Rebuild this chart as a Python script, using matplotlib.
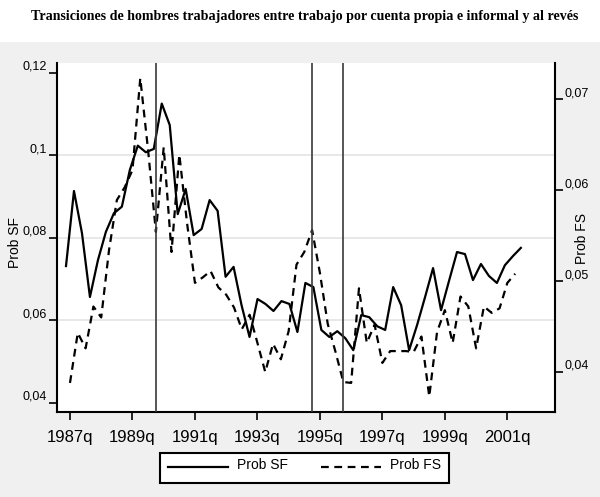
import numpy as np
import matplotlib
matplotlib.use("Agg")
import matplotlib.pyplot as plt
from matplotlib.patches import Rectangle

plt.rcParams["font.family"] = ["Liberation Sans", "DejaVu Sans"]

# Prob SF (left axis), quarterly observations
prob_sf = [0.0731, 0.0913, 0.0811, 0.0656, 0.0745, 0.0814, 0.0859, 0.0875,
           0.0964, 0.1023, 0.1007, 0.1015, 0.1125, 0.1073, 0.0857, 0.0918,
           0.0806, 0.0821, 0.0891, 0.0865, 0.0705, 0.0729, 0.0636, 0.0559,
           0.0651, 0.0639, 0.0622, 0.0646, 0.0639, 0.0571, 0.0690, 0.0680,
           0.0576, 0.0559, 0.0573, 0.0556, 0.0527, 0.0612, 0.0607, 0.0585,
           0.0576, 0.0680, 0.0636, 0.0527, 0.0588, 0.0656, 0.0726, 0.0624,
           0.0695, 0.0765, 0.0760, 0.0697, 0.0736, 0.0707, 0.0690, 0.0733,
           0.0755, 0.0775]

# Prob FS (right axis), quarterly from 1987q1
prob_fs = [0.0388, 0.0443, 0.0426, 0.0472, 0.0460, 0.0534, 0.0589, 0.0603,
           0.0622, 0.0723, 0.0644, 0.0554, 0.0647, 0.0532, 0.0639, 0.0563,
           0.0498, 0.0504, 0.0511, 0.0493, 0.0485, 0.0471, 0.0447, 0.0463,
           0.0432, 0.0400, 0.0431, 0.0414, 0.0445, 0.0518, 0.0532, 0.0556,
           0.0509, 0.0453, 0.0422, 0.0389, 0.0388, 0.0492, 0.0432, 0.0452,
           0.0410, 0.0423, 0.0423, 0.0423, 0.0422, 0.0439, 0.0373, 0.0444,
           0.0468, 0.0432, 0.0483, 0.0472, 0.0426, 0.0472, 0.0465, 0.0470,
           0.0498, 0.0508]

year_labels = ["1987q", "1989q", "1991q", "1993q", "1995q", "1997q", "1999q", "2001q"]
year_pos = [0, 8, 16, 24, 32, 40, 48, 56]
breaks = [11, 31, 35]  # 1989q4, 1994q4, 1995q4

sf_ticks = [0.04, 0.06, 0.08, 0.10, 0.12]
sf_labels = ["0,04", "0,06", "0,08", "0,1", "0,12"]
fs_ticks = [0.04, 0.05, 0.06, 0.07]
fs_labels = ["0,04", "0,05", "0,06", "0,07"]

fig = plt.figure(figsize=(6, 4.97), dpi=100, facecolor="#f0f0f0")
fig.add_artist(Rectangle((0, 0.9155), 1, 0.0845, transform=fig.transFigure,
                         facecolor="white", edgecolor="none", zorder=0))

rect = [0.0945, 0.171, 0.8305, 0.7027]
ax = fig.add_axes(rect)
ax2 = fig.add_axes(rect)
ax2.patch.set_visible(False)

for y in sf_ticks[1:-1]:
    ax.axhline(y, color="#e4e4e4", lw=1.2, zorder=0)

l1, = ax.plot(np.arange(len(prob_sf)), prob_sf, color="black", lw=1.6, label="Prob SF")
l2, = ax2.plot(np.arange(len(prob_fs)), prob_fs, color="black", lw=1.6,
               dashes=(3.5, 2.5), label="Prob FS")
for b in breaks:
    ax2.axvline(b, color="#3a3a3a", lw=1.2)

ax.set_xlim(-1.165, 61.28)
ax.set_ylim(0.0377, 0.1224)
ax2.set_xlim(-1.70, 62.1)
ax2.set_ylim(0.0356, 0.0740)

ax.set_xticks([])
ax.set_yticks(sf_ticks)
ax.set_yticklabels(sf_labels)
ax.tick_params(axis="y", direction="out", length=6, width=1.2, labelsize=9, pad=1)
for lbl in ax.get_yticklabels():
    lbl.set_verticalalignment("bottom")
for s in ["top", "right"]:
    ax.spines[s].set_visible(False)
ax.spines["left"].set_linewidth(1.5)
ax.spines["bottom"].set_linewidth(1.5)

ax2.yaxis.tick_right()
ax2.set_yticks(fs_ticks)
ax2.set_yticklabels(fs_labels)
ax2.tick_params(axis="y", direction="out", length=6, width=1.2, labelsize=9, pad=1)
for lbl in ax2.get_yticklabels():
    lbl.set_verticalalignment("bottom")
ax2.set_xticks(year_pos)
ax2.set_xticklabels(year_labels)
ax2.tick_params(axis="x", direction="out", length=6, width=1.2, labelsize=12, pad=7)
for s in ["top", "left", "bottom"]:
    ax2.spines[s].set_visible(False)
ax2.spines["right"].set_linewidth(1.5)

fig.text(15 / 600, 1 - 243 / 497, "Prob SF", rotation=90, ha="center", va="center", fontsize=10)
fig.text(582 / 600, 1 - 238 / 497, "Prob FS", rotation=90, ha="center", va="center", fontsize=10)

fig.text(0.508, 0.966, "Transiciones de hombres trabajadores entre trabajo por cuenta propia e informal y al revés",
         ha="center", va="center", fontsize=10.1, fontweight="bold", family="Liberation Serif")

leg = fig.legend(handles=[l1, l2], loc="center", bbox_to_anchor=(0.5075, 0.0584), ncol=2,
                 fontsize=10, handlelength=4.3, handletextpad=0.65, columnspacing=2.4,
                 borderpad=0.6, frameon=True, fancybox=False, edgecolor="black", framealpha=1)
leg.get_frame().set_linewidth(1.5)
for t in leg.get_texts():
    t.set_verticalalignment("bottom")

fig.savefig("out.png", dpi=100, facecolor=fig.get_facecolor())
